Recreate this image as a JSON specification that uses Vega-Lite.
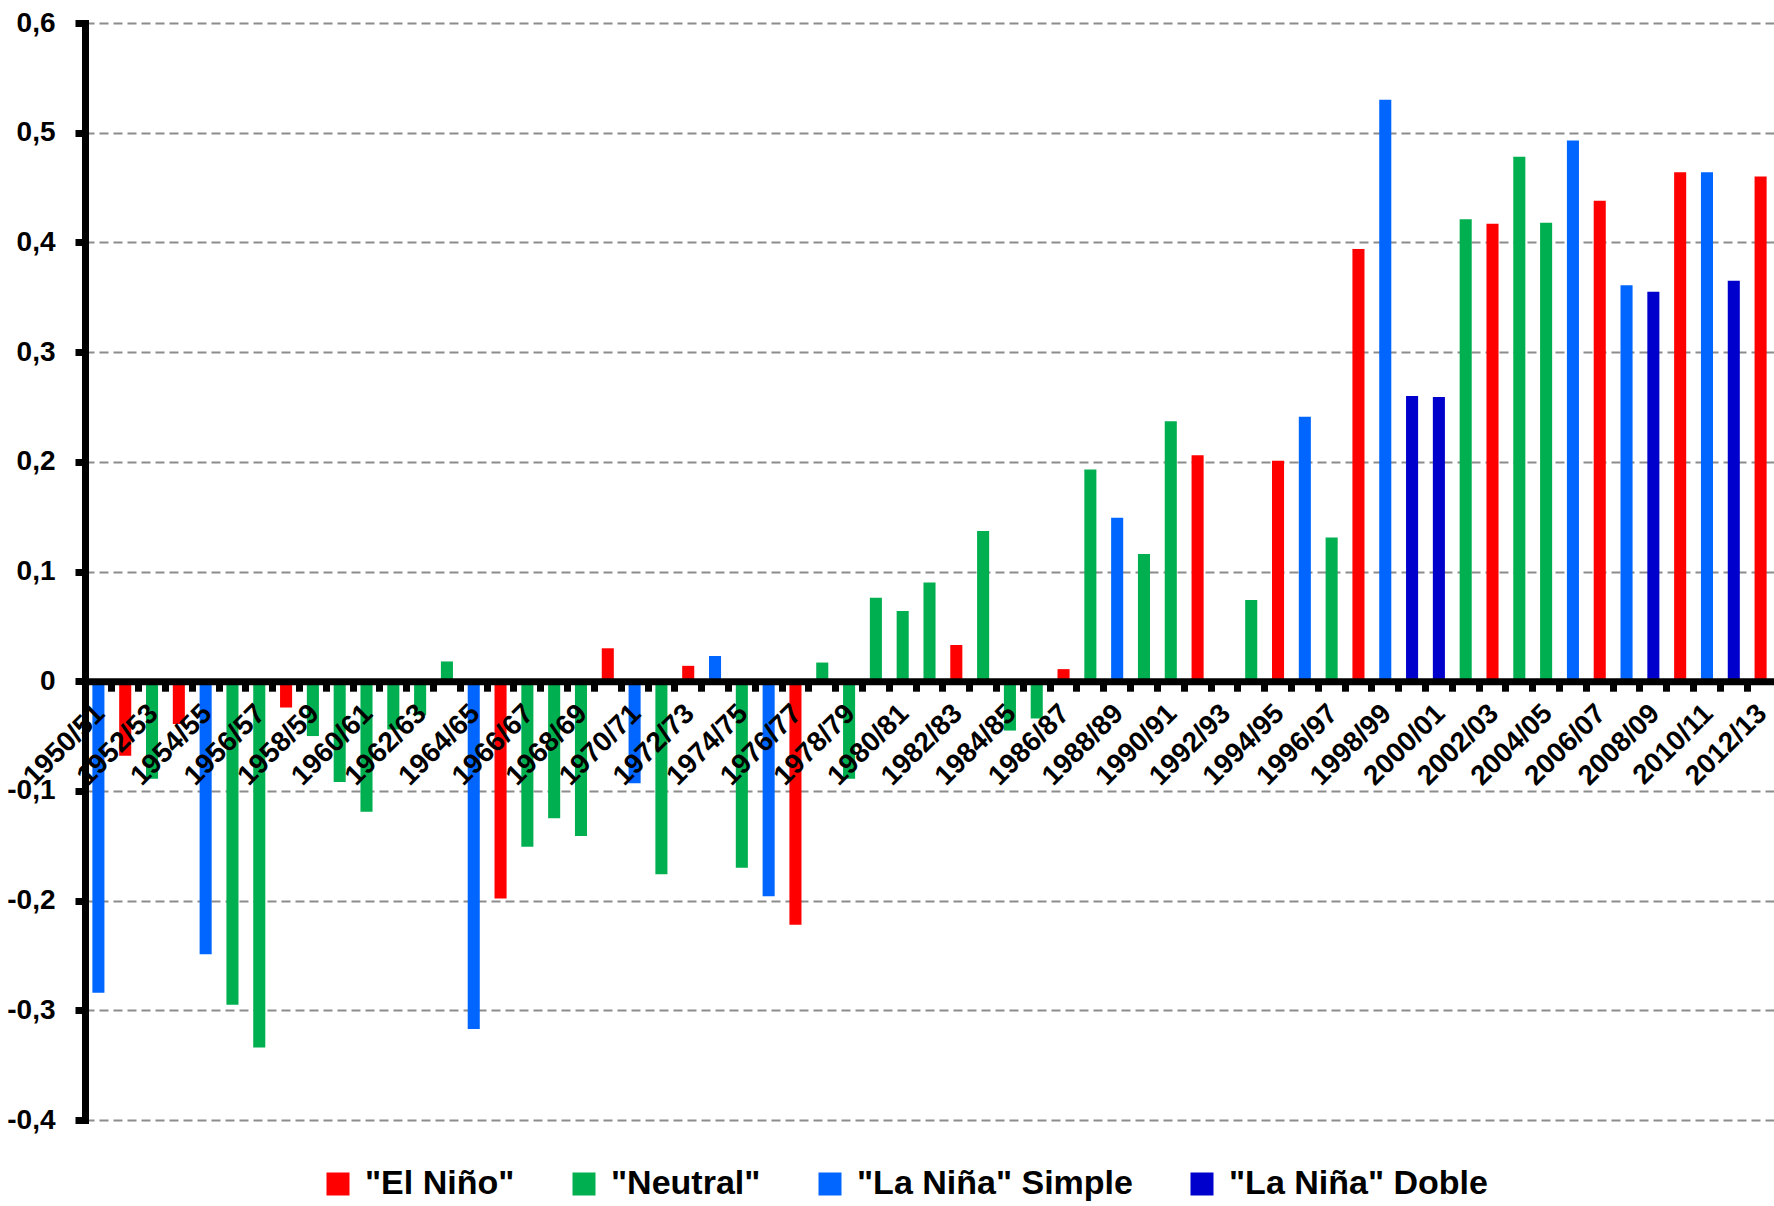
{
  "$schema": "https://vega.github.io/schema/vega-lite/v6.json",
  "width": 1689,
  "height": 1097,
  "autosize": {"type": "none"},
  "padding": {"left": 85, "top": 23, "right": 0, "bottom": 86},
  "background": "white",
  "config": {
    "view": {"stroke": null},
    "axis": {"labelFont": "Liberation Sans", "labelFontWeight": "bold", "labelColor": "black"},
    "legend": {"labelFont": "Liberation Sans", "labelFontWeight": "bold"}
  },
  "data": {
    "values": [
      {"season": "1950/51", "fase": "\"La Niña\" Simple", "value": -0.284},
      {"season": "1951/52", "fase": "\"El Niño\"", "value": -0.068},
      {"season": "1952/53", "fase": "\"Neutral\"", "value": -0.089},
      {"season": "1953/54", "fase": "\"El Niño\"", "value": -0.039},
      {"season": "1954/55", "fase": "\"La Niña\" Simple", "value": -0.249},
      {"season": "1955/56", "fase": "\"Neutral\"", "value": -0.295},
      {"season": "1956/57", "fase": "\"Neutral\"", "value": -0.334},
      {"season": "1957/58", "fase": "\"El Niño\"", "value": -0.024},
      {"season": "1958/59", "fase": "\"Neutral\"", "value": -0.050},
      {"season": "1959/60", "fase": "\"Neutral\"", "value": -0.092},
      {"season": "1960/61", "fase": "\"Neutral\"", "value": -0.119},
      {"season": "1961/62", "fase": "\"Neutral\"", "value": -0.044},
      {"season": "1962/63", "fase": "\"Neutral\"", "value": -0.031},
      {"season": "1963/64", "fase": "\"Neutral\"", "value": 0.018},
      {"season": "1964/65", "fase": "\"La Niña\" Simple", "value": -0.317},
      {"season": "1965/66", "fase": "\"El Niño\"", "value": -0.198},
      {"season": "1966/67", "fase": "\"Neutral\"", "value": -0.151},
      {"season": "1967/68", "fase": "\"Neutral\"", "value": -0.125},
      {"season": "1968/69", "fase": "\"Neutral\"", "value": -0.141},
      {"season": "1969/70", "fase": "\"El Niño\"", "value": 0.030},
      {"season": "1970/71", "fase": "\"La Niña\" Simple", "value": -0.093},
      {"season": "1971/72", "fase": "\"Neutral\"", "value": -0.176},
      {"season": "1972/73", "fase": "\"El Niño\"", "value": 0.014},
      {"season": "1973/74", "fase": "\"La Niña\" Simple", "value": 0.023},
      {"season": "1974/75", "fase": "\"Neutral\"", "value": -0.170},
      {"season": "1975/76", "fase": "\"La Niña\" Simple", "value": -0.196},
      {"season": "1976/77", "fase": "\"El Niño\"", "value": -0.222},
      {"season": "1977/78", "fase": "\"Neutral\"", "value": 0.017},
      {"season": "1978/79", "fase": "\"Neutral\"", "value": -0.089},
      {"season": "1979/80", "fase": "\"Neutral\"", "value": 0.076},
      {"season": "1980/81", "fase": "\"Neutral\"", "value": 0.064},
      {"season": "1981/82", "fase": "\"Neutral\"", "value": 0.090},
      {"season": "1982/83", "fase": "\"El Niño\"", "value": 0.033},
      {"season": "1983/84", "fase": "\"Neutral\"", "value": 0.137},
      {"season": "1984/85", "fase": "\"Neutral\"", "value": -0.045},
      {"season": "1985/86", "fase": "\"Neutral\"", "value": -0.034},
      {"season": "1986/87", "fase": "\"El Niño\"", "value": 0.011},
      {"season": "1987/88", "fase": "\"Neutral\"", "value": 0.193},
      {"season": "1988/89", "fase": "\"La Niña\" Simple", "value": 0.149},
      {"season": "1989/90", "fase": "\"Neutral\"", "value": 0.116},
      {"season": "1990/91", "fase": "\"Neutral\"", "value": 0.237},
      {"season": "1991/92", "fase": "\"El Niño\"", "value": 0.206},
      {"season": "1992/93", "fase": "\"Neutral\"", "value": 0},
      {"season": "1993/94", "fase": "\"Neutral\"", "value": 0.074},
      {"season": "1994/95", "fase": "\"El Niño\"", "value": 0.201},
      {"season": "1995/96", "fase": "\"La Niña\" Simple", "value": 0.241},
      {"season": "1996/97", "fase": "\"Neutral\"", "value": 0.131},
      {"season": "1997/98", "fase": "\"El Niño\"", "value": 0.394},
      {"season": "1998/99", "fase": "\"La Niña\" Simple", "value": 0.530},
      {"season": "1999/00", "fase": "\"La Niña\" Doble", "value": 0.260},
      {"season": "2000/01", "fase": "\"La Niña\" Doble", "value": 0.259},
      {"season": "2001/02", "fase": "\"Neutral\"", "value": 0.421},
      {"season": "2002/03", "fase": "\"El Niño\"", "value": 0.417},
      {"season": "2003/04", "fase": "\"Neutral\"", "value": 0.478},
      {"season": "2004/05", "fase": "\"Neutral\"", "value": 0.418},
      {"season": "2005/06", "fase": "\"La Niña\" Simple", "value": 0.493},
      {"season": "2006/07", "fase": "\"El Niño\"", "value": 0.438},
      {"season": "2007/08", "fase": "\"La Niña\" Simple", "value": 0.361},
      {"season": "2008/09", "fase": "\"La Niña\" Doble", "value": 0.355},
      {"season": "2009/10", "fase": "\"El Niño\"", "value": 0.464},
      {"season": "2010/11", "fase": "\"La Niña\" Simple", "value": 0.464},
      {"season": "2011/12", "fase": "\"La Niña\" Doble", "value": 0.365},
      {"season": "2012/13", "fase": "\"El Niño\"", "value": 0.460}
    ]
  },
  "mark": {"type": "bar", "width": {"band": 0.45}},
  "encoding": {
    "x": {
      "field": "season",
      "type": "nominal",
      "sort": null,
      "scale": {"paddingInner": 0, "paddingOuter": 0},
      "axis": {
        "orient": "bottom",
        "offset": -438.8,
        "title": null,
        "grid": false,
        "zindex": 1,
        "domainColor": "black",
        "domainWidth": 7,
        "tickColor": "black",
        "tickWidth": 7,
        "tickSize": 10,
        "bandPosition": 0,
        "labelOffset": -8,
        "labelAngle": -45,
        "labelFontSize": 28,
        "labelPadding": 8,
        "labelOverlap": false,
        "labelBound": false,
        "labelFlush": false,
        "labelExpr": "toNumber(substring(datum.value, 0, 4)) % 2 == 0 ? datum.value : ''"
      }
    },
    "y": {
      "field": "value",
      "type": "quantitative",
      "scale": {"domain": [-0.4, 0.6], "nice": false},
      "axis": {
        "title": null,
        "values": [-0.4, -0.3, -0.2, -0.1, 0, 0.1, 0.2, 0.3, 0.4, 0.5, 0.6],
        "zindex": 0,
        "grid": true,
        "gridColor": "#8c8c8c",
        "gridWidth": 2,
        "gridDash": [9, 5],
        "domainColor": "black",
        "domainWidth": 7,
        "domainCap": "square",
        "tickColor": "black",
        "tickWidth": 7,
        "tickSize": 10,
        "labelFontSize": 28,
        "labelPadding": 20,
        "labelExpr": "datum.value == 0 ? '0' : (datum.value < 0 ? '-' : '') + replace(format(abs(datum.value), '.1f'), '.', ',')"
      }
    },
    "color": {
      "field": "fase",
      "type": "nominal",
      "scale": {
        "domain": ["\"El Niño\"", "\"Neutral\"", "\"La Niña\" Simple", "\"La Niña\" Doble"],
        "range": ["#ff0000", "#00b050", "#0066ff", "#0000cc"]
      },
      "legend": {
        "title": null,
        "orient": "none",
        "legendX": 236,
        "legendY": 1144,
        "direction": "horizontal",
        "padding": 0,
        "symbolType": "square",
        "symbolSize": 529,
        "symbolStrokeWidth": 0,
        "symbolOpacity": 1,
        "labelFontSize": 34,
        "labelColor": "black",
        "labelOffset": 10,
        "columnPadding": 52,
        "labelLimit": 0
      }
    }
  }
}
